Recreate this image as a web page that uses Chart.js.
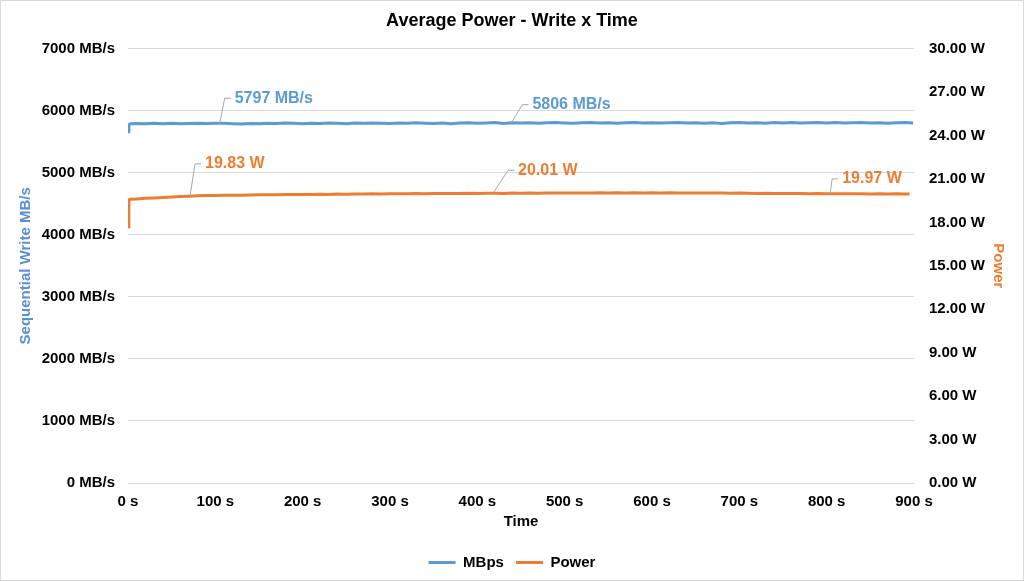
<!DOCTYPE html>
<html>
<head>
<meta charset="utf-8">
<script src="https://cdn.jsdelivr.net/npm/chart.js@4"></script>
<style>
  body { margin: 0; background: #fff; }
  #wrap { width: 1024px; height: 581px; box-sizing: border-box; border: 1px solid #d9d9d9; }
  canvas { display: block; }
</style>
</head>
<body>
<div id="wrap"><canvas id="chart" width="1022" height="579"></canvas></div>
<script>
const timeS = [0, 1, 2, 3, 10, 20, 30, 40, 50, 60, 70, 80, 90,
  100, 110, 120, 130, 140, 150, 160, 170, 180, 190,
  200, 210, 220, 230, 240, 250, 260, 270, 280, 290,
  300, 310, 320, 330, 340, 350, 360, 370, 380, 390,
  400, 410, 420, 430, 440, 450, 460, 470, 480, 490,
  500, 510, 520, 530, 540, 550, 560, 570, 580, 590,
  600, 610, 620, 630, 640, 650, 660, 670, 680, 690,
  700, 710, 720, 730, 740, 750, 760, 770, 780, 790,
  800, 810, 820, 830, 840, 850, 860, 870, 880, 890, 895, 899];

const mbps = [5660, 5765, 5785, 5790, 5795, 5788, 5796, 5790, 5798, 5790, 5794, 5799, 5792,
  5796, 5797, 5790, 5785, 5795, 5788, 5798, 5793, 5800, 5796,
  5790, 5799, 5795, 5801, 5797, 5791, 5800, 5796, 5803, 5798,
  5794, 5801, 5797, 5804, 5799, 5795, 5802, 5788, 5800, 5806,
  5798, 5803, 5808, 5792, 5806, 5801, 5807, 5799, 5804, 5808,
  5802, 5796, 5805, 5809, 5801, 5806, 5798, 5804, 5809, 5803,
  5807, 5800, 5805, 5810, 5802, 5807, 5799, 5805, 5795, 5806,
  5810, 5802, 5807, 5798, 5808, 5803, 5809, 5801, 5806, 5811,
  5803, 5808, 5800, 5806, 5810, 5802, 5807, 5797, 5806, 5809, 5804, 5800];

const powerW = [17.70, 19.55, 19.58, 19.60, 19.62, 19.66, 19.69, 19.72, 19.75, 19.78, 19.81, 19.83, 19.85,
  19.86, 19.87, 19.87, 19.88, 19.89, 19.90, 19.90, 19.91, 19.92, 19.92,
  19.93, 19.92, 19.94, 19.93, 19.95, 19.94, 19.96, 19.95, 19.97, 19.96,
  19.98, 19.97, 19.98, 19.99, 19.98, 20.00, 19.99, 20.00, 19.99, 20.01,
  20.00, 20.01, 20.01, 20.00, 20.02, 20.01, 20.02, 20.01, 20.02, 20.03,
  20.02, 20.03, 20.02, 20.03, 20.04, 20.03, 20.04, 20.03, 20.04, 20.03,
  20.04, 20.03, 20.04, 20.03, 20.02, 20.03, 20.02, 20.03, 20.02, 20.01,
  20.02, 20.01, 20.00, 20.01, 20.00, 19.99, 20.00, 19.99, 19.98, 19.99,
  19.97, 19.98, 19.97, 19.98, 19.97, 19.96, 19.97, 19.96, 19.97, 19.96, 19.95, null];

// labelled points: time, value, which axis
const calloutTimes = [105, 439, 71, 418, 804];
const calloutValues = [5797, 5806, 19.83, 20.01, 19.97];
const calloutAxes = ["y", "y", "y1", "y1", "y1"];
const calloutTexts = ["5797 MB/s", "5806 MB/s", "19.83 W", "20.01 W", "19.97 W"];

const BLUE = "#5B9BD5";
const ORANGE = "#ED7D31";
const FONT = "'Liberation Sans', Arial, sans-serif";

// leader line offsets for each callout
const calloutOffsets = [[5, -25], [11, -18], [5, -32], [15, -23], [2, -15]];

const calloutPlugin = {
  id: "callouts",
  afterDatasetsDraw(chart) {
    const ctx = chart.ctx;
    const x = chart.scales.x;
    ctx.save();
    calloutTimes.forEach((t, i) => {
      const axis = chart.scales[calloutAxes[i]];
      const px = x.getPixelForValue(t);
      const py = axis.getPixelForValue(calloutValues[i]);
      const [dx, dy] = calloutOffsets[i];
      ctx.strokeStyle = "#a6a6a6";
      ctx.lineWidth = 1;
      ctx.beginPath();
      ctx.moveTo(px, py);
      ctx.lineTo(px + dx, py + dy);
      ctx.lineTo(px + dx + 6, py + dy);
      ctx.stroke();
      ctx.fillStyle = calloutAxes[i] === "y" ? BLUE : ORANGE;
      ctx.font = "bold 16px " + FONT;
      ctx.textAlign = "left";
      ctx.textBaseline = "middle";
      ctx.fillText(calloutTexts[i], px + dx + 10, py + dy);
    });
    ctx.restore();
  },
};

new Chart(document.getElementById("chart").getContext("2d"), {
  type: "line",
  data: {
    datasets: [
      {
        label: "MBps",
        data: timeS.map((t, i) => ({ x: t, y: mbps[i] })),
        borderColor: BLUE,
        backgroundColor: BLUE,
        borderWidth: 3,
        pointRadius: 0,
        yAxisID: "y",
      },
      {
        label: "Power",
        data: timeS.map((t, i) => ({ x: t, y: powerW[i] })),
        borderColor: ORANGE,
        backgroundColor: ORANGE,
        borderWidth: 3,
        pointRadius: 0,
        yAxisID: "y1",
      },
    ],
  },
  options: {
    responsive: false,
    animation: false,
    layout: { padding: 0 },
    plugins: {
      title: {
        display: true,
        text: "Average Power - Write x Time",
        color: "#000",
        font: { family: FONT, size: 18, weight: "bold" },
        padding: { top: 9, bottom: 17 },
      },
      legend: {
        position: "bottom",
        labels: {
          color: "#000",
          font: { family: FONT, size: 15, weight: "bold" },
          boxWidth: 27,
          boxHeight: 3,
          padding: 12,
          generateLabels: (chart) =>
            Chart.defaults.plugins.legend.labels.generateLabels(chart).map((l) => ({
              ...l,
              lineWidth: 0,
              fillStyle: l.strokeStyle,
            })),
        },
      },
      tooltip: { enabled: false },
    },
    scales: {
      x: {
        type: "linear",
        min: 0,
        max: 900,
        grid: { display: false, drawTicks: false },
        border: { display: false },
        ticks: {
          stepSize: 100,
          padding: 10,
          color: "#000",
          font: { family: FONT, size: 15, weight: "bold" },
          callback: (v) => v + " s",
        },
        title: {
          display: true,
          text: "Time",
          color: "#000",
          font: { family: FONT, size: 15, weight: "bold" },
          padding: { top: 0, bottom: 12 },
        },
        afterFit: (s) => { s.height = 60; },
      },
      y: {
        position: "left",
        min: 0,
        max: 7000,
        grid: { color: "#d9d9d9", drawTicks: false },
        border: { display: false },
        ticks: {
          stepSize: 1000,
          padding: 13,
          color: "#000",
          font: { family: FONT, size: 15, weight: "bold" },
          callback: (v) => v + " MB/s",
        },
        title: {
          display: true,
          text: "Sequential Write MB/s",
          color: "#5B8ED6",
          font: { family: FONT, size: 15, weight: "bold" },
          padding: { top: 16, bottom: 0 },
        },
        afterFit: (s) => { s.width = 127; },
      },
      y1: {
        position: "right",
        min: 0,
        max: 30,
        grid: { display: false, drawTicks: false },
        border: { display: false },
        ticks: {
          stepSize: 3,
          padding: 15,
          color: "#000",
          font: { family: FONT, size: 15, weight: "bold" },
          callback: (v) => v.toFixed(2) + " W",
        },
        title: {
          display: true,
          text: "Power",
          color: ORANGE,
          font: { family: FONT, size: 15, weight: "bold" },
          padding: { top: 16, bottom: 0 },
        },
        afterFit: (s) => { s.width = 109; },
      },
    },
  },
  plugins: [calloutPlugin],
});
</script>
</body>
</html>
